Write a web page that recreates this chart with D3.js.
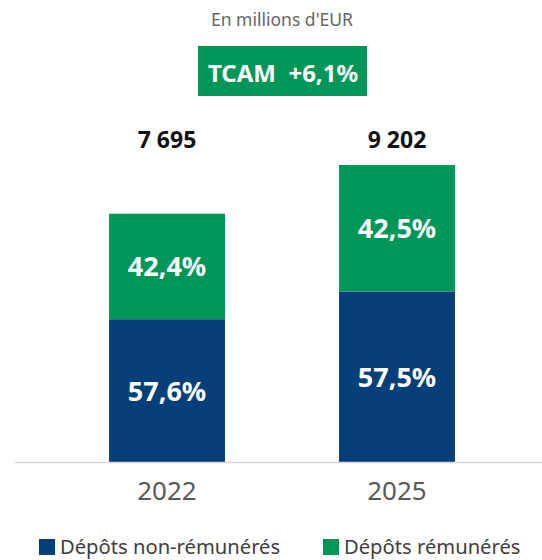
<!DOCTYPE html>
<html>
<head>
<meta charset="utf-8">
<script src="https://cdn.jsdelivr.net/npm/d3@7"></script>
<style>
  body { margin: 0; background: #fff; }
  svg { display: block; font-family: "Noto Sans", sans-serif; }
</style>
</head>
<body>
<div id="chart"></div>
<script>
const years = ["2022", "2025"];
const totals = [7695, 9202];
const shareNonRem = [57.6, 57.5];
const shareRem = [42.4, 42.5];
const seriesNames = ["Dépôts non-rémunérés", "Dépôts rémunérés"];
const subtitle = "En millions d'EUR";
const tcamLabel = "TCAM";
const tcamValue = "+6,1%";

const width = 542;
const height = 560;
const colors = ["#043f7a", "#00965a"];

const fr = d3.formatLocale({ decimal: ",", thousands: "\u00a0", grouping: [3], currency: ["", "€"] });
const fmtTotal = fr.format(",d");
const fmtPct = (v) => fr.format(".1f")(v) + "%";

const svg = d3.select("#chart")
  .append("svg")
  .attr("width", width)
  .attr("height", height);

const x = d3.scaleBand()
  .domain(years)
  .range([52, 512])
  .paddingInner(0.496)
  .paddingOuter(0.248);

const y = d3.scaleLinear()
  .domain([0, d3.max(totals)])
  .range([462.5, 165]);

// stacked segments
const rows = years.map((yr, i) => ({
  year: yr,
  total: totals[i],
  nonRem: totals[i] * shareNonRem[i] / 100,
  rem: totals[i] * shareRem[i] / 100,
  pNonRem: shareNonRem[i],
  pRem: shareRem[i]
}));
const stack = d3.stack().keys(["nonRem", "rem"]);
const layers = stack(rows);
const pctKey = ["pNonRem", "pRem"];

const g = svg.append("g");

layers.forEach((layer, li) => {
  g.selectAll(".seg-" + li)
    .data(layer)
    .join("rect")
    .attr("class", "seg-" + li)
    .attr("x", (d) => x(d.data.year))
    .attr("width", x.bandwidth())
    .attr("y", (d) => y(d[1]))
    .attr("height", (d) => y(d[0]) - y(d[1]))
    .attr("fill", colors[li]);

  g.selectAll(".lbl-" + li)
    .data(layer)
    .join("text")
    .attr("class", "lbl-" + li)
    .attr("x", (d) => x(d.data.year) + x.bandwidth() / 2)
    .attr("y", (d) => (y(d[0]) + y(d[1])) / 2)
    .attr("dy", "0.36em")
    .attr("text-anchor", "middle")
    .attr("fill", "#fff")
    .attr("font-size", 27)
    .attr("font-weight", 700)
    .text((d) => fmtPct(d.data[pctKey[li]]));
});

// totals above bars
g.selectAll(".total")
  .data(rows)
  .join("text")
  .attr("class", "total")
  .attr("x", (d) => x(d.year) + x.bandwidth() / 2)
  .attr("y", 148)
  .attr("text-anchor", "middle")
  .attr("fill", "#111")
  .attr("font-size", 23)
  .attr("font-weight", 700)
  .text((d) => fmtTotal(d.total));

// baseline
svg.append("line")
  .attr("x1", 15)
  .attr("x2", width)
  .attr("y1", y(0))
  .attr("y2", y(0))
  .attr("stroke", "#d9d9d9")
  .attr("stroke-width", 1.5);

// x axis (labels only)
const xAxis = svg.append("g")
  .attr("transform", `translate(0,${y(0)})`)
  .call(d3.axisBottom(x).tickSize(0).tickPadding(19));
xAxis.select(".domain").remove();
xAxis.selectAll("text")
  .attr("font-family", "Noto Sans, sans-serif")
  .attr("font-size", 26)
  .attr("fill", "#595959");

// subtitle
svg.append("text")
  .attr("x", 282)
  .attr("y", 26)
  .attr("text-anchor", "middle")
  .attr("fill", "#666")
  .attr("font-size", 17.5)
  .text(subtitle);

// TCAM box
svg.append("rect")
  .attr("x", 198)
  .attr("y", 46)
  .attr("width", 169)
  .attr("height", 50)
  .attr("fill", colors[1]);
svg.append("text")
  .attr("x", 283)
  .attr("y", 82)
  .attr("text-anchor", "middle")
  .attr("fill", "#fff")
  .attr("font-size", 24)
  .attr("font-weight", 700)
  .attr("xml:space", "preserve")
  .text(tcamLabel + "  " + tcamValue);

// legend
const legend = svg.append("g").attr("transform", "translate(39,539)");
const legendX = [0, 284];
seriesNames.forEach((name, i) => {
  const item = legend.append("g").attr("transform", `translate(${legendX[i]},0)`);
  item.append("rect")
    .attr("width", 16)
    .attr("height", 16)
    .attr("fill", colors[i]);
  item.append("text")
    .attr("x", 21)
    .attr("y", 15)
    .attr("fill", "#404040")
    .attr("font-size", 20.2)
    .text(name);
});
</script>
</body>
</html>
